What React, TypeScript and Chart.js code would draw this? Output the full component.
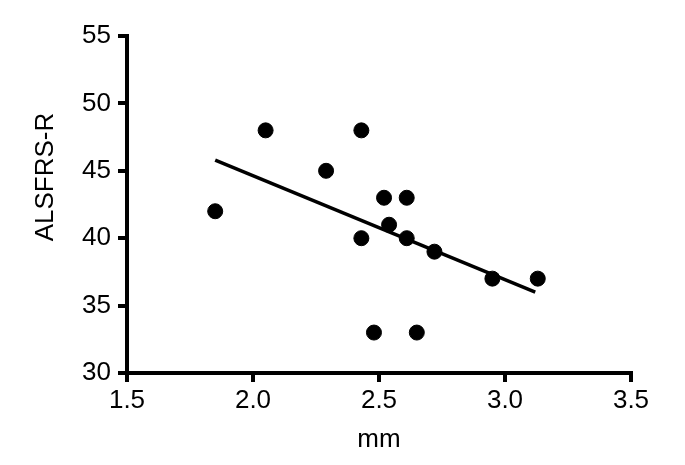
import React, { useEffect, useRef } from "react";
import { Chart, registerables } from "chart.js";

Chart.register(...registerables);

const mmValues = [1.85, 2.05, 2.29, 2.43, 2.43, 2.48, 2.52, 2.54, 2.61, 2.61, 2.65, 2.72, 2.95, 3.13];
const alsfrsValues = [42, 48, 45, 48, 40, 33, 43, 41, 43, 40, 33, 39, 37, 37];
const fitX = [1.85, 3.12];
const fitY = [45.8, 36.0];
const xTicks = [1.5, 2.0, 2.5, 3.0, 3.5];
const yTicks = [30, 35, 40, 45, 50, 55];

const FONT = "'Liberation Sans', Arial, sans-serif";

const yTitlePlugin = {
  id: "yTitlePlugin",
  afterDraw(chart: any) {
    const ctx = chart.ctx;
    ctx.save();
    ctx.translate(46, 177);
    ctx.rotate(-Math.PI / 2);
    ctx.fillStyle = "#000";
    ctx.font = `26px ${FONT}`;
    ctx.textAlign = "center";
    ctx.textBaseline = "middle";
    ctx.fillText("ALSFRS-R", 0, 0);
    ctx.restore();
  },
};

export default function App() {
  const ref = useRef<HTMLCanvasElement | null>(null);

  useEffect(() => {
    if (!ref.current) return;
    const chart = new Chart(ref.current, {
      type: "scatter",
      data: {
        datasets: [
          {
            type: "line",
            data: fitX.map((x, i) => ({ x, y: fitY[i] })),
            borderColor: "#000",
            borderWidth: 3.5,
            pointRadius: 0,
            fill: false,
            tension: 0,
          } as any,
          {
            type: "scatter",
            data: mmValues.map((x, i) => ({ x, y: alsfrsValues[i] })),
            backgroundColor: "#000",
            borderColor: "#000",
            pointRadius: 7.5,
            pointHoverRadius: 7.5,
          },
        ],
      },
      options: {
        responsive: false,
        animation: false,
        devicePixelRatio: 1,
        layout: { padding: { top: 36, right: 54, left: 0, bottom: 0 } },
        plugins: { legend: { display: false }, tooltip: { enabled: false } },
        scales: {
          x: {
            type: "linear",
            min: 1.5,
            max: 3.5,
            afterBuildTicks: (scale: any) => {
              scale.ticks = xTicks.map((v) => ({ value: v }));
            },
            afterFit: (scale: any) => {
              scale.height = 92;
            },
            border: { display: true, color: "#000", width: 4 },
            grid: {
              display: true,
              drawOnChartArea: false,
              drawTicks: true,
              tickLength: 9,
              color: "#000",
              lineWidth: 4,
            },
            ticks: {
              color: "#000",
              font: { family: FONT, size: 26 },
              padding: 3,
              callback: (v: any) => Number(v).toFixed(1),
            },
            title: {
              display: true,
              text: "mm",
              color: "#000",
              font: { family: FONT, size: 26 },
              padding: { top: 0, bottom: 10 },
            },
          },
          y: {
            type: "linear",
            min: 30,
            max: 55,
            afterBuildTicks: (scale: any) => {
              scale.ticks = yTicks.map((v) => ({ value: v }));
            },
            afterFit: (scale: any) => {
              scale.width = 127;
            },
            border: { display: true, color: "#000", width: 4 },
            grid: {
              display: true,
              drawOnChartArea: false,
              drawTicks: true,
              tickLength: 9,
              color: "#000",
              lineWidth: 4,
            },
            ticks: {
              color: "#000",
              font: { family: FONT, size: 26 },
              padding: 7,
            },
          },
        },
      },
      plugins: [yTitlePlugin],
    });
    return () => chart.destroy();
  }, []);

  return (
    <div style={{ position: "absolute", left: 0, top: 0, width: 685, height: 465, background: "#fff" }}>
      <canvas ref={ref} width={685} height={465} />
    </div>
  );
}
